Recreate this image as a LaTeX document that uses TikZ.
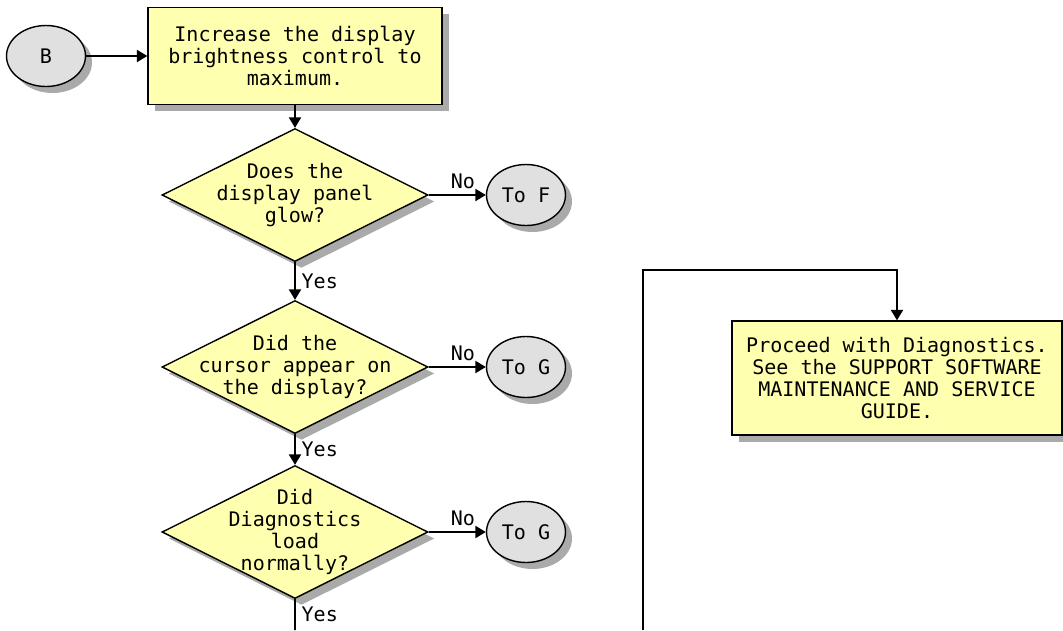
\documentclass[tikz,border=0pt]{standalone}
\usepackage{fontspec}
\setmonofont{DejaVu Sans Mono}
\usepackage{tikz}
\usetikzlibrary{shapes.geometric,positioning,shadows,arrows.meta}

\definecolor{notepad}{RGB}{255,255,176}
\definecolor{connfill}{RGB}{224,224,224}
\definecolor{shadegray}{RGB}{170,170,170}

\tikzset{
  every node/.style={font=\ttfamily\fontsize{11.4}{12.5}\selectfont, align=center},
  dropgray/.style={drop shadow={shadow xshift=0.13cm, shadow yshift=-0.13cm, fill=shadegray, opacity=1}},
  connector/.style={ellipse, draw, line width=0.8pt, fill=connfill, dropgray,
    minimum width=1.58cm, minimum height=1.22cm, inner sep=0pt},
  action/.style={rectangle, draw, line width=0.8pt, fill=notepad, dropgray,
    minimum width=5.88cm, minimum height=1.94cm},
  decision/.style={diamond, draw, line width=0.8pt, fill=notepad, dropgray,
    minimum width=5.32cm, minimum height=2.66cm, inner sep=0pt},
  flow/.style={-{Triangle[length=6pt,width=7pt]}, line width=0.9pt}
}

\begin{document}
\begin{tikzpicture}[node distance=2cm, on grid]
   \useasboundingbox (0,0) rectangle (21.26,-12.6);

   \node[connector] (b) at (0.92,-1.12) {B};
   \node[action] (act1) [right=4.98cm of b] {Increase the display\\brightness control to\\maximum.};

   % the three checks, each one with its exit to the right
   \node[decision] (q1) [below=2.78cm of act1] {};
   \node (q1txt) at (q1) {Does the\\display panel\\glow?};
   \node[decision] (q2) [below=3.44cm of q1] {};
   \node (q2txt) at (q2) {Did the\\cursor appear on\\the display?};
   \node[decision] (q3) [below=3.3cm of q2] {};
   \node (q3txt) at (q3) {Did\\Diagnostics\\load\\normally?};

   \node[connector] (tof) [right=4.62cm of q1] {To F};
   \node[connector] (tog1) [right=4.62cm of q2] {To G};
   \node[connector] (tog2) [right=4.62cm of q3] {To G};

   \node[action, minimum width=6.6cm, minimum height=2.28cm] (act2) at (17.94,-7.56)
      {Proceed with Diagnostics.\\See the SUPPORT SOFTWARE\\MAINTENANCE AND SERVICE\\GUIDE.};

   \coordinate (yesend) at (5.9,-12.6);
   \coordinate (loopin) at (12.86,-12.6);
   \coordinate (looptop) at (12.86,-5.4);

   \draw[flow] (b) -- (act1);
   \draw[flow] (act1) -- (q1);
   \draw[flow] (q1) -- node[above, pos=0.6] {No} (tof);
   \draw[flow] (q1) -- node[right] {Yes} (q2);
   \draw[flow] (q2) -- node[above, pos=0.6] {No} (tog1);
   \draw[flow] (q2) -- node[right] {Yes} (q3);
   \draw[flow] (q3) -- node[above, pos=0.6] {No} (tog2);
   \draw[line width=0.9pt] (q3) -- node[right] {Yes} (yesend);
   \draw[flow] (loopin) -- (looptop) -| (act2);
\end{tikzpicture}
\end{document}
